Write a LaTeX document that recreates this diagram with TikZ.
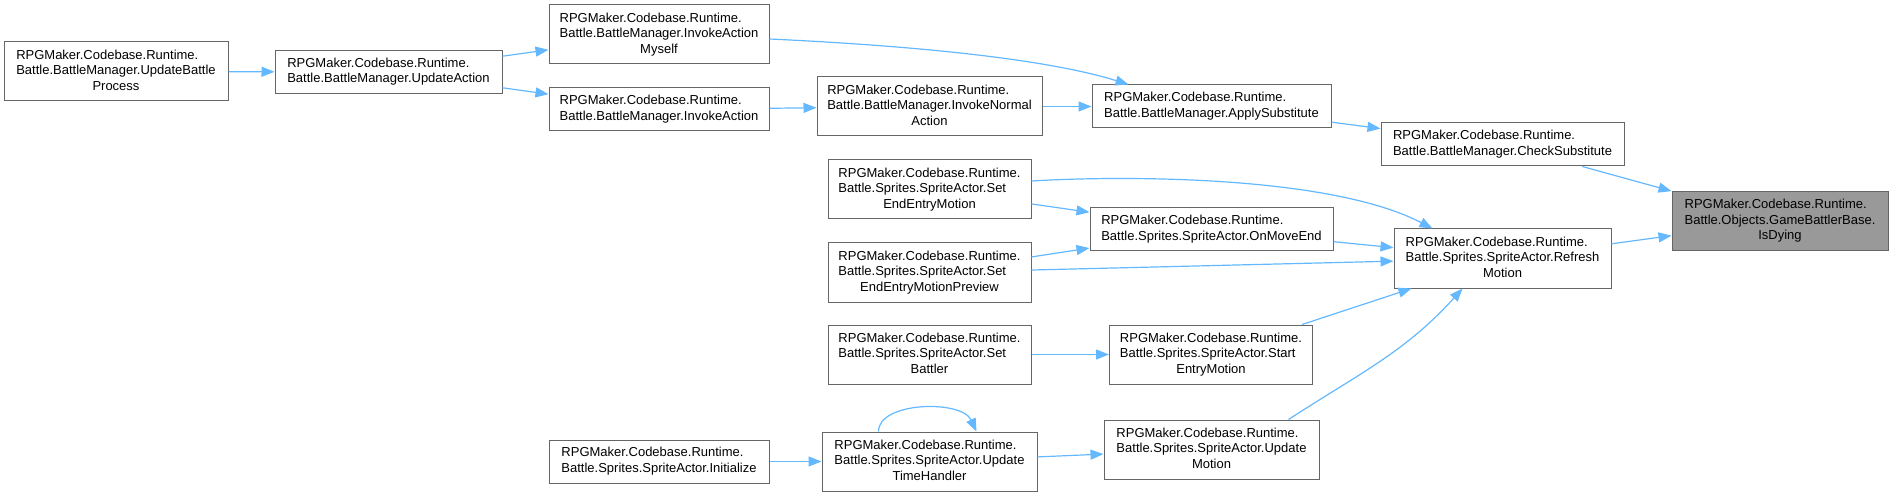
\documentclass[tikz,border=0pt]{standalone}
\usepackage{fontspec}
\setmainfont{Liberation Sans}
\usepackage{xcolor}
\usetikzlibrary{arrows.meta, positioning}
\definecolor{edgeblue}{HTML}{63B8FF}
\definecolor{boxgray}{HTML}{666666}
\definecolor{rootgray}{HTML}{999999}
\newcommand{\twoln}[2]{\begin{tabular}{@{}l@{}}#1\\\multicolumn{1}{@{}c@{}}{#2}\end{tabular}}
\newcommand{\threeln}[3]{\begin{tabular}{@{}l@{}}#1\\#2\\\multicolumn{1}{@{}c@{}}{#3}\end{tabular}}

\begin{document}
\begin{tikzpicture}[x=1pt, y=1pt,
    fn/.style={draw=boxgray, line width=1pt, fill=white, inner xsep=4pt, inner ysep=0pt,
        font=\fontsize{13}{15.5}\selectfont, minimum height=43pt},
    fn3/.style={fn, minimum height=59pt},
    call/.style={draw=edgeblue, line width=1.2pt, -{Triangle[length=13pt, width=10pt]}}]
    \useasboundingbox (0,0) rectangle (1893,496);

    \node[fn3, minimum width=224pt] (updBattleProc) at (116,424.5) {\threeln{RPGMaker.Codebase.Runtime.}{Battle.BattleManager.UpdateBattle}{Process}};
    \node[fn, minimum width=227pt] (updAction) at (388.5,424) {\twoln{RPGMaker.Codebase.Runtime.}{Battle.BattleManager.UpdateAction}};
    \node[fn3, minimum width=220pt] (invokeMyself) at (659,461.5) {\threeln{RPGMaker.Codebase.Runtime.}{Battle.BattleManager.InvokeAction}{Myself}};
    \node[fn, minimum width=220pt] (invokeAction) at (659,386.5) {\twoln{RPGMaker.Codebase.Runtime.}{Battle.BattleManager.InvokeAction}};
    \node[fn, minimum width=220pt] (initialize) at (659,34.5) {\twoln{RPGMaker.Codebase.Runtime.}{Battle.Sprites.SpriteActor.Initialize}};
    \node[fn3, minimum width=225pt] (invokeNormal) at (929.5,389.5) {\threeln{RPGMaker.Codebase.Runtime.}{Battle.BattleManager.InvokeNormal}{Action}};
    \node[fn3, minimum width=203pt] (setEndEntry) at (929.5,306.5) {\threeln{RPGMaker.Codebase.Runtime.}{Battle.Sprites.SpriteActor.Set}{EndEntryMotion}};
    \node[fn3, minimum width=203pt] (setEndPreview) at (929.5,223.5) {\threeln{RPGMaker.Codebase.Runtime.}{Battle.Sprites.SpriteActor.Set}{EndEntryMotionPreview}};
    \node[fn3, minimum width=203pt] (setBattler) at (929.5,141.5) {\threeln{RPGMaker.Codebase.Runtime.}{Battle.Sprites.SpriteActor.Set}{Battler}};
    \node[fn3, minimum width=215pt] (updTimeHandler) at (929.5,34.5) {\threeln{RPGMaker.Codebase.Runtime.}{Battle.Sprites.SpriteActor.Update}{TimeHandler}};
    \node[fn, minimum width=239pt] (applySubst) at (1211.5,389.5) {\twoln{RPGMaker.Codebase.Runtime.}{Battle.BattleManager.ApplySubstitute}};
    \node[fn, minimum width=243pt] (onMoveEnd) at (1211.5,266.5) {\twoln{RPGMaker.Codebase.Runtime.}{Battle.Sprites.SpriteActor.OnMoveEnd}};
    \node[fn3, minimum width=203pt] (startEntry) at (1211,141.5) {\threeln{RPGMaker.Codebase.Runtime.}{Battle.Sprites.SpriteActor.Start}{EntryMotion}};
    \node[fn3, minimum width=215pt] (updMotion) at (1211.5,46.5) {\threeln{RPGMaker.Codebase.Runtime.}{Battle.Sprites.SpriteActor.Update}{Motion}};
    \node[fn, minimum width=243pt] (checkSubst) at (1502.5,351.5) {\twoln{RPGMaker.Codebase.Runtime.}{Battle.BattleManager.CheckSubstitute}};
    \node[fn3, minimum width=217pt] (refreshMotion) at (1502.5,237.5) {\threeln{RPGMaker.Codebase.Runtime.}{Battle.Sprites.SpriteActor.Refresh}{Motion}};
    \node[fn3, fill=rootgray, minimum width=216pt] (isDying) at (1780,275) {\threeln{RPGMaker.Codebase.Runtime.}{Battle.Objects.GameBattlerBase.}{IsDying}};

    \draw[call] (updBattleProc) -- (updAction);
    \draw[call] (updAction) -- (invokeMyself);
    \draw[call] (updAction) -- (invokeAction);
    \draw[call] ([yshift=-4.5pt]invokeMyself.east) .. controls +(150,-7) and +(-80,25) .. ([xshift=-83pt]applySubst.north);
    \draw[call] (invokeAction) -- (invokeNormal);
    \draw[call] (invokeNormal) -- (applySubst);
    \draw[call] (applySubst) -- (checkSubst);
    \draw[call] (checkSubst) -- (isDying);
    \draw[call] (refreshMotion) -- (isDying);
    \draw[call] ([yshift=8.5pt]setEndEntry.east) .. controls +(100,6) and +(-100,52) .. ([xshift=-70pt]refreshMotion.north);
    \draw[call] (setEndEntry) -- (onMoveEnd);
    \draw[call] (setEndPreview) -- (onMoveEnd);
    \draw[call] (setEndPreview) -- (refreshMotion);
    \draw[call] (onMoveEnd) -- (refreshMotion);
    \draw[call] (setBattler) -- (startEntry);
    \draw[call] (startEntry) -- (refreshMotion);
    \draw[call] (initialize) -- (updTimeHandler);
    \draw[call] (updTimeHandler) -- (updMotion);
    \draw[call] ([xshift=-51pt]updTimeHandler.north) .. controls +(0,30) and +(-15,32) .. ([xshift=47pt]updTimeHandler.north);
    \draw[call] ([xshift=77pt]updMotion.north) to[out=33, in=228] ([xshift=-40pt]refreshMotion.south);
\end{tikzpicture}
\end{document}
